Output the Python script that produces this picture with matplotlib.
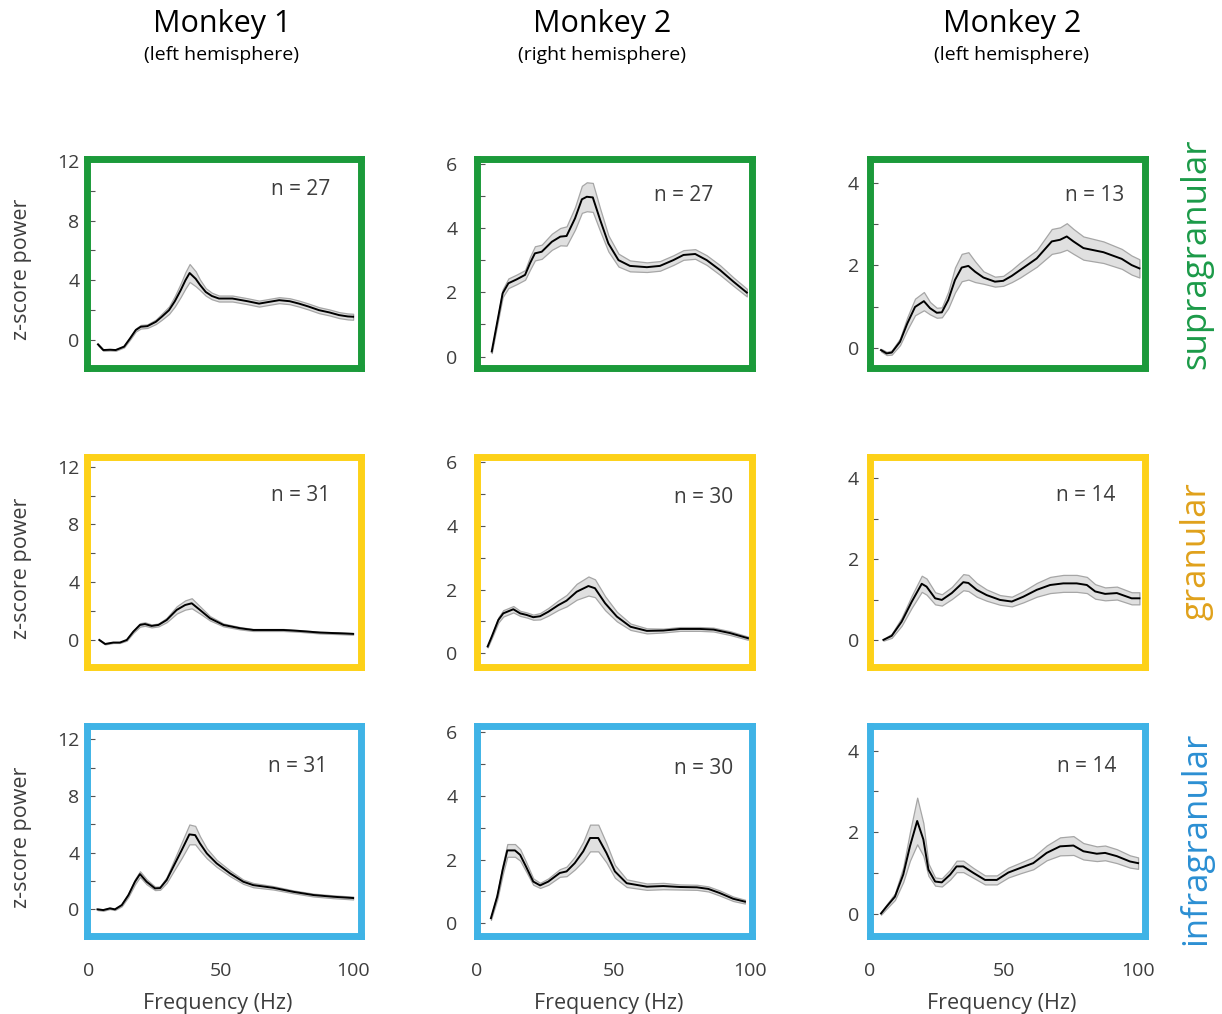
import matplotlib
matplotlib.use("Agg")
import matplotlib.pyplot as plt
import numpy as np

plt.rcParams['font.family'] = ['Open Sans', 'DejaVu Sans']

# ---- data: mean z-scored power and its s.e.m. per panel (row = layer, col = animal) ----
# Monkey 1 (left hemisphere)
m1_sup_f = [3.4, 5.4, 8, 10.1, 13.3, 15.5, 17.7, 19.6, 22.1, 25.3, 27.5, 30.3, 32.5, 34.7, 36.5, 38.1, 40.4,
            42, 44.2, 46.5, 49.2, 54.3, 60, 64.4, 68, 72, 76, 79.5, 83, 87.1, 91, 94.7, 98, 100]
m1_sup_v = [-0.29, -0.67, -0.65, -0.67, -0.44, 0.1, 0.67, 0.89, 0.93, 1.22, 1.55, 2.0, 2.6, 3.33, 4.0, 4.49, 4.1,
            3.7, 3.22, 2.95, 2.78, 2.78, 2.6, 2.44, 2.55, 2.67, 2.6, 2.44, 2.25, 2.0, 1.85, 1.67, 1.58, 1.56]
m1_sup_e = [0.05, 0.05, 0.05, 0.05, 0.05, 0.08, 0.1, 0.12, 0.12, 0.15, 0.2, 0.25, 0.35, 0.45, 0.55, 0.6, 0.5,
            0.35, 0.25, 0.22, 0.2, 0.2, 0.2, 0.2, 0.2, 0.2, 0.2, 0.2, 0.2, 0.2, 0.2, 0.2, 0.2, 0.2]

m1_gra_f = [3.9, 6.1, 9.2, 11.7, 14.3, 16.8, 19.3, 21.2, 23.7, 26.3, 29.4, 33.2, 36.4, 38.9, 42, 45.8, 50.9,
            57.2, 62.2, 73.6, 79.9, 87.5, 95.1, 100]
m1_gra_v = [0.0, -0.28, -0.18, -0.18, 0.0, 0.58, 1.04, 1.1, 0.97, 1.04, 1.38, 2.08, 2.42, 2.54, 2.08, 1.5, 1.04,
            0.81, 0.69, 0.69, 0.62, 0.51, 0.46, 0.42]
m1_gra_e = [0.03, 0.03, 0.03, 0.03, 0.05, 0.08, 0.12, 0.12, 0.1, 0.1, 0.15, 0.25, 0.32, 0.35, 0.25, 0.15, 0.1,
            0.08, 0.07, 0.07, 0.06, 0.06, 0.06, 0.06]

m1_inf_f = [3.2, 5.4, 7.9, 9.8, 12.4, 14.9, 17.4, 19.3, 21.8, 25, 26.9, 29.4, 31.9, 35.1, 38, 40.2, 42, 44.6,
            48.3, 53.4, 58.4, 62.2, 69.8, 77.3, 85, 92.5, 100]
m1_inf_v = [0.0, -0.05, 0.07, 0.0, 0.3, 1.0, 1.95, 2.49, 1.95, 1.48, 1.5, 2.07, 3.0, 4.18, 5.29, 5.24, 4.66, 3.95,
            3.25, 2.54, 1.95, 1.71, 1.52, 1.24, 1.01, 0.89, 0.8]
m1_inf_e = [0.05, 0.05, 0.05, 0.05, 0.08, 0.12, 0.18, 0.2, 0.18, 0.12, 0.12, 0.2, 0.35, 0.55, 0.7, 0.65, 0.5,
            0.35, 0.25, 0.2, 0.15, 0.15, 0.12, 0.1, 0.1, 0.1, 0.1]

# Monkey 2 (right hemisphere)
m2r_sup_f = [5.4, 9.4, 11.5, 14.5, 17.6, 19.4, 21.2, 23.7, 27.4, 30.5, 32.8, 35.9, 38.4, 40.2, 42.4, 45.1, 48.1,
             51.8, 56, 62.2, 67, 71.9, 75.6, 79.9, 84.1, 89, 93.9, 98.8]
m2r_sup_v = [0.16, 1.97, 2.28, 2.4, 2.54, 2.9, 3.21, 3.26, 3.57, 3.73, 3.75, 4.3, 4.89, 4.97, 4.95, 4.25, 3.52,
             3.0, 2.82, 2.78, 2.82, 3.0, 3.16, 3.19, 3.0, 2.69, 2.33, 1.99]
m2r_sup_e = [0.05, 0.12, 0.15, 0.15, 0.15, 0.2, 0.22, 0.22, 0.25, 0.27, 0.3, 0.35, 0.42, 0.45, 0.45, 0.35, 0.25,
             0.2, 0.17, 0.15, 0.15, 0.15, 0.15, 0.15, 0.15, 0.15, 0.13, 0.12]

m2r_gra_f = [3.9, 5.4, 7.8, 9.6, 13.3, 15.8, 18.2, 20.6, 23.1, 26.1, 29.8, 32.8, 36.5, 40.8, 43.2, 46.9, 51.2,
             56.2, 62.2, 68.2, 74.4, 81.7, 86.6, 92.7, 99.2]
m2r_gra_v = [0.21, 0.52, 1.04, 1.25, 1.38, 1.25, 1.2, 1.13, 1.16, 1.3, 1.51, 1.65, 1.93, 2.11, 2.04, 1.57, 1.15,
             0.83, 0.7, 0.71, 0.76, 0.76, 0.74, 0.63, 0.47]
m2r_gra_e = [0.03, 0.05, 0.08, 0.1, 0.1, 0.08, 0.08, 0.08, 0.1, 0.12, 0.15, 0.18, 0.25, 0.3, 0.28, 0.22, 0.15,
             0.1, 0.08, 0.06, 0.06, 0.06, 0.06, 0.06, 0.05]

m2r_inf_f = [5.1, 7.4, 9.4, 11.1, 13.9, 15.8, 17.9, 20.6, 23.1, 26.1, 30.3, 32.8, 35.8, 38.9, 41.4, 44.4, 47.4,
             50.5, 54.8, 62.2, 68.2, 74.4, 80.5, 84.7, 88.9, 93.8, 98.1]
m2r_inf_v = [0.16, 0.84, 1.68, 2.29, 2.29, 2.15, 1.79, 1.31, 1.19, 1.31, 1.58, 1.63, 1.89, 2.26, 2.68, 2.68, 2.21,
             1.63, 1.26, 1.15, 1.17, 1.14, 1.13, 1.08, 0.95, 0.77, 0.68]
m2r_inf_e = [0.05, 0.1, 0.15, 0.2, 0.2, 0.18, 0.15, 0.1, 0.08, 0.1, 0.12, 0.15, 0.2, 0.3, 0.42, 0.42, 0.3,
             0.2, 0.12, 0.1, 0.1, 0.08, 0.08, 0.08, 0.08, 0.07, 0.06]

# Monkey 2 (left hemisphere)
m2l_sup_f = [4.1, 6.2, 8.1, 11.2, 13.9, 16.8, 20.1, 22.4, 24.9, 26.8, 29.2, 31.7, 34.2, 36.7, 39.2, 42.3, 46.6,
             49.7, 52.9, 56, 62.2, 67.8, 70.9, 73.4, 75.9, 79.6, 87.1, 93.9, 97.6, 100.5]
m2l_sup_v = [-0.04, -0.12, -0.1, 0.16, 0.6, 1.0, 1.14, 0.97, 0.86, 0.87, 1.17, 1.65, 1.95, 1.99, 1.85, 1.71, 1.61,
             1.63, 1.75, 1.89, 2.17, 2.58, 2.62, 2.7, 2.58, 2.42, 2.32, 2.16, 2.01, 1.93]
m2l_sup_e = [0.03, 0.04, 0.05, 0.08, 0.15, 0.2, 0.22, 0.15, 0.12, 0.12, 0.2, 0.3, 0.33, 0.33, 0.25, 0.15, 0.12,
             0.12, 0.15, 0.18, 0.2, 0.3, 0.3, 0.32, 0.3, 0.28, 0.26, 0.24, 0.23, 0.22]

m2l_gra_f = [5, 8.1, 11.8, 15.6, 19.3, 21.1, 24.3, 26.8, 30.5, 34.8, 36.7, 39.8, 43.5, 48.5, 52.9, 57.2, 62.2,
             67.2, 72.1, 77.1, 80.9, 84, 87.7, 92.1, 97.6, 100.5]
m2l_gra_v = [0.0, 0.1, 0.45, 0.95, 1.39, 1.32, 1.03, 0.99, 1.16, 1.43, 1.41, 1.24, 1.11, 0.99, 0.95, 1.07, 1.24,
             1.36, 1.4, 1.4, 1.36, 1.2, 1.14, 1.16, 1.03, 1.03]
m2l_gra_e = [0.02, 0.05, 0.1, 0.15, 0.2, 0.2, 0.15, 0.14, 0.15, 0.2, 0.2, 0.17, 0.14, 0.12, 0.12, 0.14, 0.17,
             0.2, 0.21, 0.21, 0.2, 0.18, 0.16, 0.16, 0.15, 0.15]

m2l_inf_f = [4.1, 6.2, 9.3, 12.4, 14.9, 17.6, 19.9, 21.8, 24.3, 26.8, 29.9, 32.3, 34.8, 38.6, 42.9, 47.3, 51.6,
             56, 60.9, 65.9, 70.9, 75.9, 79.6, 84.6, 87.7, 92.1, 97, 100]
m2l_inf_v = [0.02, 0.19, 0.43, 0.97, 1.66, 2.28, 1.83, 1.09, 0.8, 0.78, 0.97, 1.17, 1.17, 1.01, 0.84, 0.84, 1.02,
             1.13, 1.25, 1.5, 1.66, 1.68, 1.54, 1.48, 1.5, 1.42, 1.29, 1.25]
m2l_inf_e = [0.03, 0.05, 0.08, 0.18, 0.35, 0.57, 0.4, 0.15, 0.1, 0.1, 0.12, 0.14, 0.14, 0.12, 0.11, 0.11, 0.12,
             0.13, 0.15, 0.18, 0.22, 0.23, 0.2, 0.18, 0.18, 0.17, 0.15, 0.14]

n_cells = [[27, 27, 13], [31, 30, 14], [31, 30, 14]]
col_titles = ["Monkey 1", "Monkey 2", "Monkey 2"]
col_subtitles = ["(left hemisphere)", "(right hemisphere)", "(left hemisphere)"]
layers = ["supragranular", "granular", "infragranular"]

panels = [
    [(m1_sup_f, m1_sup_v, m1_sup_e), (m2r_sup_f, m2r_sup_v, m2r_sup_e), (m2l_sup_f, m2l_sup_v, m2l_sup_e)],
    [(m1_gra_f, m1_gra_v, m1_gra_e), (m2r_gra_f, m2r_gra_v, m2r_gra_e), (m2l_gra_f, m2l_gra_v, m2l_gra_e)],
    [(m1_inf_f, m1_inf_v, m1_inf_e), (m2r_inf_f, m2r_inf_v, m2r_inf_e), (m2l_inf_f, m2l_inf_v, m2l_inf_e)],
]

# ---- layout (pixels on a 1222 x 1014 canvas) ----
W, H = 1222, 1014
col_x = [(86.5, 360.5), (477, 752), (870, 1144.5)]
row_y = [(158.5, 367.5), (457.5, 666.5), (726, 936)]
xlims = [(-0.95, 102.8), (0, 100.7), (0, 102.4)]
ylims = [[(-1.84, 12.16), (-0.34, 6.16), (-0.46, 4.58)],
         [(-1.84, 12.64), (-0.42, 6.15), (-0.66, 4.52)],
         [(-1.88, 12.94), (-0.40, 6.20), (-0.53, 4.60)]]
major_ticks = [[0, 4, 8, 12], [0, 2, 4, 6], [0, 2, 4]]
minor_ticks = [[2, 6, 10], [1, 3, 5], [1, 3]]
ytick_pad = [5, 14, 8]
n_pos = [[(0.78, 0.85), (0.753, 0.825), (0.82, 0.825)],
         [(0.78, 0.82), (0.825, 0.81), (0.787, 0.82)],
         [(0.772, 0.805), (0.825, 0.80), (0.79, 0.805)]]

frame_colors = ["#1b9a3a", "#fdd118", "#3fb3e6"]
layer_colors = ["#1b9a48", "#e0a11b", "#2b8fd3"]
label_y = [254, 551, 838]
text_grey = "#3d3d3d"

fig = plt.figure(figsize=(W / 100, H / 100), dpi=100)

for r in range(3):
    for c in range(3):
        x0, x1 = col_x[c]
        y0, y1 = row_y[r]
        ax = fig.add_axes([x0 / W, 1 - y1 / H, (x1 - x0) / W, (y1 - y0) / H])
        f, v, e = (np.array(a, dtype=float) for a in panels[r][c])
        ax.fill_between(f, v - e, v + e, facecolor="#e0e0e0", edgecolor="#a6a6a6", linewidth=0.9, zorder=2)
        ax.plot(f, v, color="black", linewidth=1.4, zorder=3)

        ax.set_xlim(*xlims[c])
        ax.set_ylim(*ylims[r][c])
        for sp in ax.spines.values():
            sp.set_color(frame_colors[r])
            sp.set_linewidth(5.0)
            sp.set_zorder(4)

        ax.set_yticks(major_ticks[c])
        ax.set_yticks(minor_ticks[c], minor=True)
        ax.tick_params(axis="y", which="both", direction="in", length=5.5, width=0.8,
                       color="#555555", labelsize=14, labelcolor=text_grey, pad=ytick_pad[c])
        ax.tick_params(axis="y", which="minor", labelleft=False)

        ax.set_xticks([0, 50, 100])
        if r == 2:
            ax.tick_params(axis="x", length=0, pad=19, labelsize=14, labelcolor=text_grey)
            ax.set_xlabel("Frequency (Hz)", fontsize=15.5, color=text_grey)
            ax.xaxis.set_label_coords(0.48, -0.27)
        else:
            ax.tick_params(axis="x", length=0, labelbottom=False)

        if c == 0:
            ax.set_ylabel("z-score power", fontsize=15.5, color=text_grey)
            ax.yaxis.set_label_coords(-0.2, 0.47)

        ax.text(*n_pos[r][c], f"n = {n_cells[r][c]}", transform=ax.transAxes,
                fontsize=15, color=text_grey, ha="center", va="center")

# column headings
col_centers = [222, 602, 1012]
for c in range(3):
    fig.text(col_centers[c] / W, 1 - 24 / H, col_titles[c], fontsize=22, color="black",
             ha="center", va="center")
    fig.text(col_centers[c] / W, 1 - 55 / H, col_subtitles[c], fontsize=14, color="black",
             ha="center", va="center")

# layer names on the right
for r in range(3):
    fig.text(1196 / W, 1 - label_y[r] / H, layers[r], fontsize=25, color=layer_colors[r],
             rotation=90, ha="center", va="center")

fig.savefig("out.png", dpi=100)
